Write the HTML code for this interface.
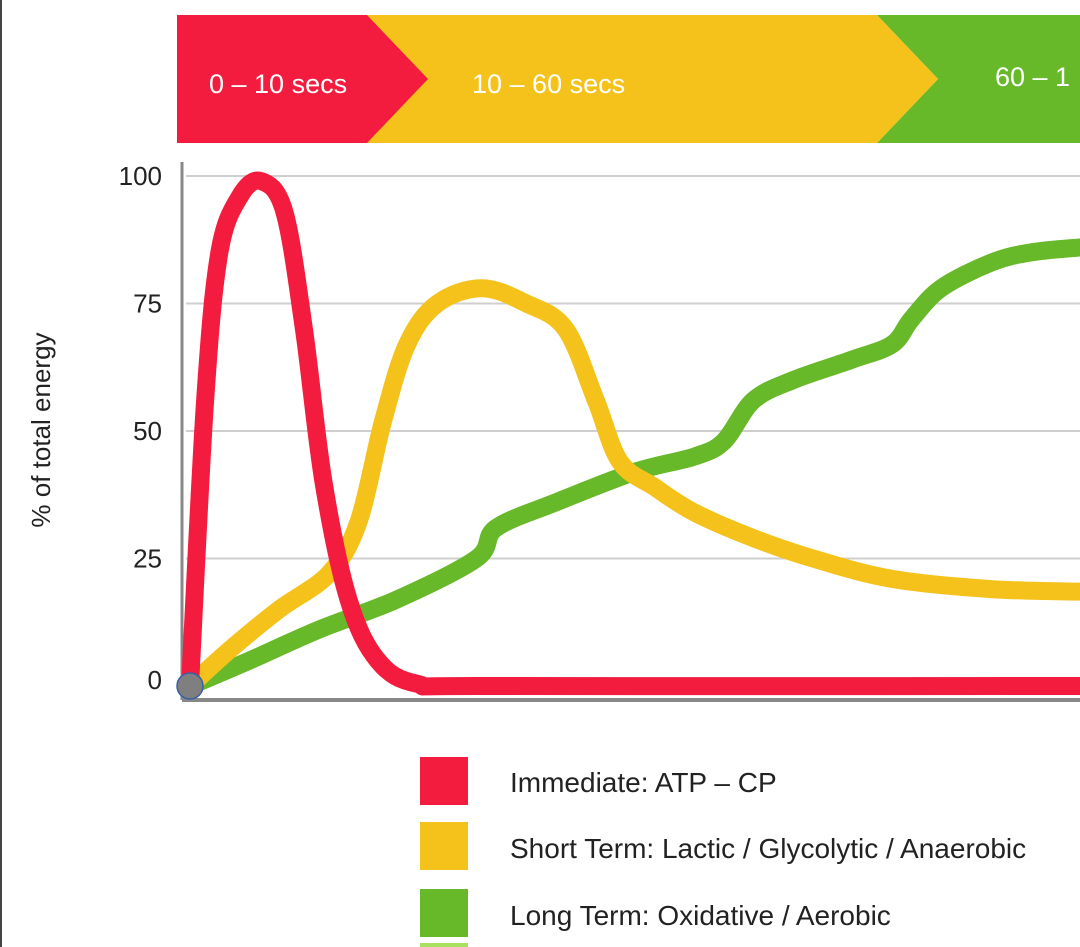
<!DOCTYPE html>
<html><head><meta charset="utf-8"><style>
html,body{margin:0;padding:0;background:#fff;}
body{width:1080px;height:947px;overflow:hidden;position:relative;font-family:"Liberation Sans",sans-serif;}
</style></head><body>
<div style="position:absolute;left:0;top:0;width:2px;height:947px;background:#444"></div>
<svg id="chart" width="1080" height="947" style="position:absolute;left:0;top:0">
  <g>
    <polygon points="877,15 1080,15 1080,143 877,143 938,79" fill="#67b92a"/>
    <polygon points="367,15 877,15 938,79 877,143 367,143" fill="#f4c21b"/>
    <polygon points="177,15 367,15 428,79 367,143 177,143" fill="#f31c3e"/>
    <text x="209" y="93" font-size="27" fill="#fff" font-family="Liberation Sans Narrow, Liberation Sans, sans-serif">0 – 10 secs</text>
    <text x="472" y="93" font-size="27" fill="#fff" font-family="Liberation Sans Narrow, Liberation Sans, sans-serif">10  – 60 secs</text>
    <text x="995" y="86" font-size="27" fill="#fff" font-family="Liberation Sans Narrow, Liberation Sans, sans-serif">60  – 1</text>
  </g>
  <g id="grid"></g>
  <line x1="182" y1="162" x2="182" y2="700" stroke="#888" stroke-width="3"/>
  <line x1="182" y1="700" x2="1080" y2="700" stroke="#888" stroke-width="4"/>
  <g id="ticks"></g>
  <text transform="translate(50,430) rotate(-90)" text-anchor="middle" font-size="26" fill="#222">% of total energy</text>
  <g id="series"></g>
  <circle cx="190" cy="686" r="13" fill="#7f7f7f" stroke="#3b5ea8" stroke-width="1.5"/>
  <g>
    <rect x="420" y="757" width="48" height="48" fill="#f31c3e"/>
    <text x="510" y="792" font-size="28" fill="#222">Immediate:  ATP – CP</text>
    <rect x="420" y="822" width="48" height="48" fill="#f4c21b"/>
    <text x="510" y="858" font-size="28" fill="#222">Short Term: Lactic / Glycolytic / Anaerobic</text>
    <rect x="420" y="889" width="48" height="48" fill="#67b92a"/>
    <text x="510" y="925" font-size="28" fill="#222">Long Term:  Oxidative / Aerobic</text>
    <rect x="420" y="943" width="48" height="4" fill="#a8e060"/>
  </g>
</svg>
<script>
const yTicks=[0,25,50,75,100];
const redT=[0,1.7,3.3,5.6,8,10.6,12.8,15,17.8,21.1,25.6,34.4,100];
const redV=[0,56,85,96,99,93,70,40,17,5,0.4,0,0];
const yellowT=[0,4.4,10,15.6,18.9,21.7,24.4,27.8,32.8,37.8,42.2,45.6,48.3,52.2,56.7,63.3,70,78.9,90,100];
const yellowV=[0,7,15,22,32,52,67,75,78,75,70,56,44,39,34,29,25,21,19,18.5];
const greenT=[0,6.7,14.4,23.3,32.2,34.4,41.1,50,56.7,60,63.3,67.8,74.4,78.9,81.1,84.4,90,94.4,100];
const greenV=[0,5,11,17,25,31,36,42,45,48,56,60,64,67,72,78,83,85,86];
const NS='http://www.w3.org/2000/svg';
const xs=t=>190+t*8.9;
const ys=v=>686-v*5.1;
const grid=document.getElementById('grid'),ticks=document.getElementById('ticks'),ser=document.getElementById('series');
yTicks.forEach(v=>{
  if(v>0){const l=document.createElementNS(NS,'line');
  
  
  l.setAttribute('x1',186);l.setAttribute('x2',1080);l.setAttribute('y1',ys(v));l.setAttribute('y2',ys(v));
  l.setAttribute('stroke','#cfcfcf');l.setAttribute('stroke-width','2');grid.appendChild(l);}
  const t=document.createElementNS(NS,'text');
  
  
  t.setAttribute('x',162);t.setAttribute('y',ys(v)+(v==0?3:9));t.setAttribute('text-anchor','end');
  t.setAttribute('font-size','26');t.setAttribute('fill','#222');t.textContent=v;ticks.appendChild(t);
});
function path(T,V){
  const p=T.map((t,i)=>[xs(t),ys(V[i])]);
  let d='M'+p[0][0]+','+p[0][1];
  for(let i=0;i<p.length-1;i++){
    const p0=p[Math.max(0,i-1)],p1=p[i],p2=p[i+1],p3=p[Math.min(p.length-1,i+2)];
    const c1=[p1[0]+(p2[0]-p0[0])/6,p1[1]+(p2[1]-p0[1])/6];
    const c2=[p2[0]-(p3[0]-p1[0])/6,p2[1]-(p3[1]-p1[1])/6];
    d+=` C${c1[0]},${c1[1]} ${c2[0]},${c2[1]} ${p2[0]},${p2[1]}`;
  }
  return d;
}
[['green-line',greenT,greenV,'#67b92a'],['yellow-line',yellowT,yellowV,'#f4c21b'],['red-line',redT,redV,'#f31c3e']].forEach(s=>{
  const p=document.createElementNS(NS,'path');
  
  
  p.setAttribute('d',path(s[1],s[2]));p.setAttribute('fill','none');p.setAttribute('stroke',s[3]);
  p.setAttribute('stroke-width','18');p.setAttribute('stroke-linecap','round');p.setAttribute('stroke-linejoin','round');
  ser.appendChild(p);
});
</script>
</body></html>
